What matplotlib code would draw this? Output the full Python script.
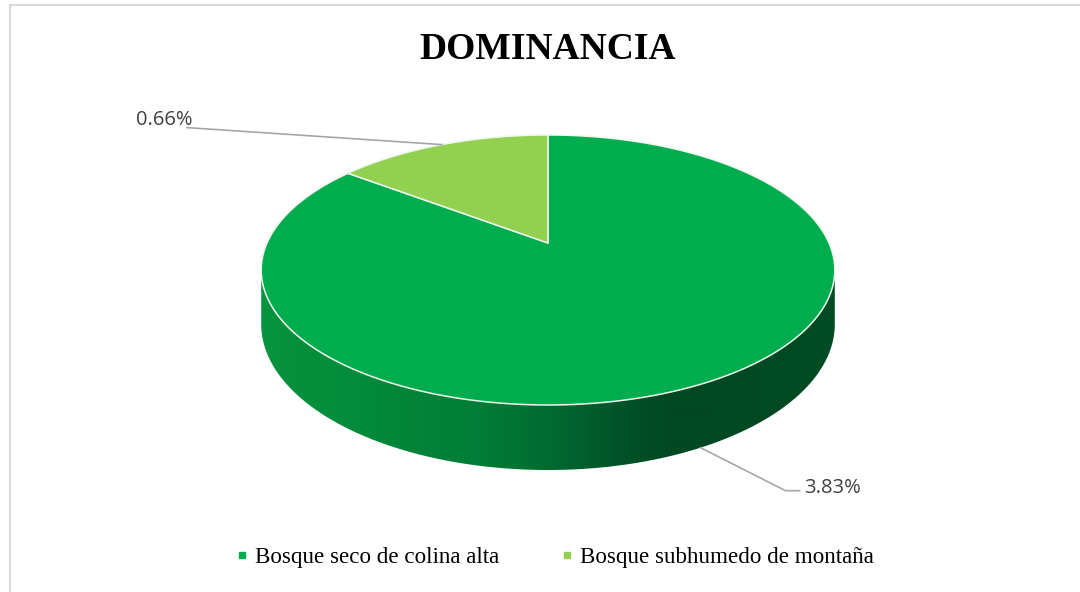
import numpy as np
import matplotlib
matplotlib.use("Agg")
import matplotlib.pyplot as plt
from matplotlib.patches import Polygon
from matplotlib.lines import Line2D

title = "DOMINANCIA"
categories = ["Bosque seco de colina alta", "Bosque subhumedo de montaña"]
values = [3.83, 0.66]
top_colors = ["#00AD4E", "#92D050"]
labels = [f"{v:.2f}%" for v in values]

W, H = 1080, 592
fig = plt.figure(figsize=(W / 100, H / 100), dpi=100)
ax = fig.add_axes([0, 0, 1, 1])
ax.set_xlim(0, W)
ax.set_ylim(H, 0)
ax.axis("off")

# chart-area border
ax.plot([9.5, 9.5, W + 5], [H + 5, 4.5, 4.5], color="#d9d9d9", lw=1.5,
        solid_joinstyle="miter")

# 3D pie layout (perspective projection)
cx, cy = 548, 243
A, B, k = 281, 129.6, 0.2
depth = 52


def proj(t, z=0.0):
    u, v = np.cos(t), np.sin(t)
    d = 1 + k * v
    return cx + A * u / d, cy - B * v / d + z / d


# angles: start at 12 o'clock, clockwise
total = sum(values)
spans = [v / total * 2 * np.pi for v in values]
bounds = []
start = np.pi / 2
for s in spans:
    bounds.append((start - s, start))
    start -= s

# side shading keypoints (angle deg -> rgb)
kd = np.array([180, 230, 259, 271, 281, 290, 300, 330, 360])
kc = np.array([(10, 150, 66), (4, 142, 60), (0, 125, 54), (0, 105, 47),
               (0, 85, 40), (0, 72, 34), (0, 72, 34), (0, 75, 35),
               (0, 78, 36)]) / 255.0

# side silhouette polygon (front half, between the horizontal extremes)
tm = np.asin(k)
ts = np.linspace(np.pi + tm, 2 * np.pi - tm, 500)
top_arc = [proj(t) for t in ts]
bot_arc = [proj(t, depth) for t in ts[::-1]]
side_poly = Polygon(top_arc + bot_arc, closed=True, facecolor="none",
                    edgecolor="none")
ax.add_patch(side_poly)

# horizontal gradient for the side (colour per column from rim angle)
xf = np.array([p[0] for p in top_arc])
xcols = np.arange(250, 846) + 0.5
tcols = np.degrees(np.interp(xcols, xf, ts))
grad = np.stack([np.interp(tcols, kd, kc[:, i]) for i in range(3)], axis=-1)
img = np.repeat(grad[None, :, :], 2, axis=0)
im = ax.imshow(img, extent=(250, 846, 480, 250), aspect="auto",
               interpolation="bilinear", zorder=1)
im.set_clip_path(side_poly)

# top face slices
for (a0, a1), col in zip(bounds, top_colors):
    tt = np.linspace(a0, a1, 200)
    pts = [proj(t) for t in tt]
    poly = [(cx, cy)] + pts
    ax.add_patch(Polygon(poly, closed=True, facecolor=col,
                         edgecolor="#eef6ee", lw=1.1, joinstyle="round",
                         zorder=2))

# data labels with leader lines
lab_font = dict(family="Open Sans", fontsize=14.5, color="#404040")
for (a0, a1), lab in zip(bounds, labels):
    tmid = 0.5 * (a0 + a1)
    if np.sin(tmid) < 0:
        px, py = proj(tmid, depth)
        ex, ey = px + 85, py + 43
        ax.plot([px, ex, ex + 14], [py, ey, ey], color="#a6a6a6", lw=1.2,
                zorder=3)
        ax.text(ex + 19, ey - 3, lab, ha="left", va="center", **lab_font)
    else:
        px, py = proj(tmid, 0)
        ex, ey = px - 255, py - 17
        ax.plot([px, ex], [py, ey], color="#a6a6a6", lw=1.2, zorder=3)
        ax.text(ex + 6, ey - 8, lab, ha="right", va="center", **lab_font)

# title
ax.text(548, 59, title, ha="center", va="baseline", fontsize=27,
        fontweight="bold", family="Liberation Serif", color="black")

# legend
handles = [Line2D([], [], marker="s", ls="", markersize=5, color=c)
           for c in top_colors]
fig.legend(handles, categories, loc="center", ncol=2, frameon=False,
           bbox_to_anchor=(555 / W, 1 - 557 / H),
           prop={"family": "Liberation Serif", "size": 16.6},
           handlelength=0.5, handletextpad=0.3, columnspacing=2.7)

fig.savefig("out.png", dpi=100)
